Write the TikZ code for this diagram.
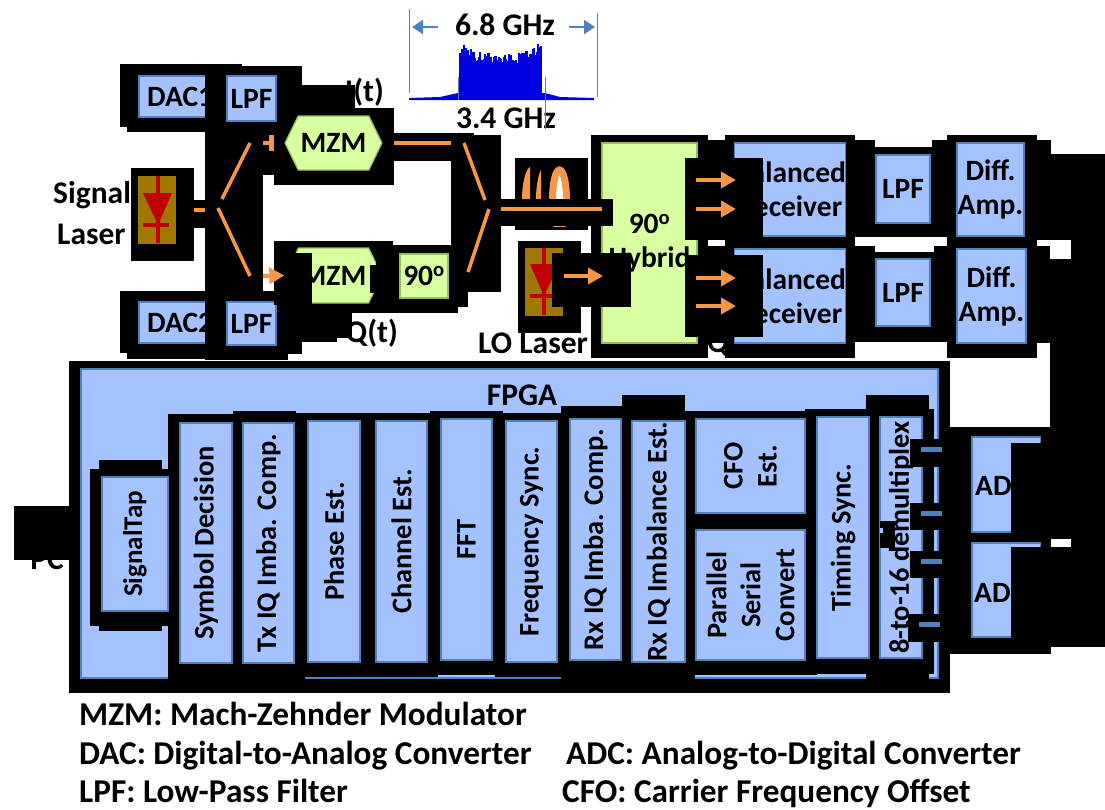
\documentclass[tikz,border=0pt]{standalone}
\usepackage{fontspec}
\usepackage{xcolor}
\usepackage{tikz}
\usetikzlibrary{arrows.meta,shapes.symbols}
\setmainfont{Carlito}
\definecolor{panelblue}{RGB}{164,194,255}
\definecolor{edgeblue}{RGB}{79,129,189}
\definecolor{panelgreen}{RGB}{216,255,160}
\definecolor{edgegreen}{RGB}{155,187,89}
\definecolor{fibre}{RGB}{247,150,70}
\definecolor{laserbrown}{RGB}{160,120,0}
\definecolor{diodered}{RGB}{192,0,0}
\definecolor{specblue}{RGB}{0,0,225}
\definecolor{markblue}{RGB}{79,129,189}

\begin{document}
\begin{tikzpicture}[
  x=1pt, y=-1pt,
  label/.style={inner sep=0pt, align=center, font=\fontsize{31.5}{34}\selectfont\bfseries},
  legend/.style={inner sep=0pt, anchor=base west, font=\fontsize{33.3}{34}\selectfont\bfseries},
  bluebox/.style={draw=edgeblue, line width=1.2pt, fill=panelblue, inner sep=0pt, align=center, font=\fontsize{29.5}{34}\selectfont\bfseries},
  rotbox/.style={bluebox, rotate=90, font=\fontsize{28.4}{34}\selectfont\bfseries},
  boxtext/.style={inner sep=0pt, anchor=west, font=\fontsize{29.5}{34}\selectfont\bfseries},
  greenbox/.style={draw=edgegreen, line width=1.2pt, fill=panelgreen, inner sep=0pt, align=center, font=\fontsize{29.5}{34}\selectfont\bfseries},
  modbox/.style={greenbox, shape=signal, signal to=east and west, signal pointer angle=128},
  blob/.style={fill=black},
  fibreline/.style={draw=fibre, line width=4.5pt},
  splitline/.style={draw=fibre, line width=3.5pt},
  fibrearrow/.style={draw=fibre, line width=4.5pt, -{Triangle[length=15pt,width=16pt]}},
  diode/.style={draw=diodered, line width=3.5pt},
  markline/.style={draw=markblue, line width=0.9pt},
  markarrow/.style={draw=markblue, line width=2pt, -{Triangle[length=11pt,width=14pt]}},
  tapline/.style={draw=edgeblue, line width=5pt}
]
\useasboundingbox (0,0) rectangle (1105,809);

\node[label, anchor=west] (siglabel) at (53,195) {Signal};
\node[label, anchor=west] (laserlabel) at (57,234) {Laser};
\node[label, anchor=east] (ilabel) at (384,92) {I(t)};
\node[label, anchor=east] (qlabel) at (398,333) {Q(t)};
\node[label, anchor=west] (lolabel) at (478,343) {LO Laser};
\node[label, anchor=west] (ioutlabel) at (714,152) {I};
\node[label, anchor=west] (qoutlabel) at (707,344) {Q};
\node[label] (pclabel) at (47,559) {PC};

\pgfmathsetseed{11}
\foreach \xx in {460,...,541}{
  \pgfmathsetmacro{\yt}{43+13*(1-abs(\xx-500.5)/41)+rnd*15}
  \draw[specblue, line width=1.1pt] (\xx,99) -- (\xx,\yt);
}
\fill[specblue] (460,66) rectangle (541,99);
\fill[specblue] (409,98) -- (440,97) -- (458,93) -- (545,93) -- (560,97) -- (594,98) -- (594,100) -- (409,100) -- cycle;
\coordinate (specla) at (409,9);
\coordinate (speclb) at (409,93);
\coordinate (specra) at (597,13);
\coordinate (specrb) at (597,97);
\coordinate (specma) at (458,77);
\coordinate (specmb) at (458,100);
\coordinate (specna) at (545,77);
\coordinate (specnb) at (545,129);
\draw[markline] (specla) -- (speclb);
\draw[markline] (specra) -- (specrb);
\draw[markline] (specma) -- (specmb);
\node[label] (spanlabel) at (505,25) {6.8 GHz};
\node[label] (halflabel) at (506,118) {3.4 GHz};
\draw[markline] (specna) -- (specnb);
\coordinate (spanla) at (438,27);
\coordinate (spanlb) at (412,27);
\coordinate (spanra) at (569,27);
\coordinate (spanrb) at (595,27);
\draw[markarrow] (spanla) -- (spanlb);
\draw[markarrow] (spanra) -- (spanrb);

\foreach \xa/\ya/\xb/\yb in {120/64/242/127,127/127/205/132,120/291/205/353,127/353/205/359}
  \fill[blob] (\xa,\ya) rectangle (\xb,\yb);
\node[bluebox, minimum width=73, minimum height=41] (daca) at (175.5,96.5) {};
\node[bluebox, minimum width=73, minimum height=41] (dacb) at (175.5,322.5) {};
\node[boxtext] (dacatext) at (147,96.5) {DAC1};
\node[boxtext] (dacbtext) at (147,322.5) {DAC2};

\foreach \xa/\ya/\xb/\yb in {205/66/302/135,302/85/355/108,205/135/263/358,263/135/274/175,
  274/108/394/185,394/133/474/161,451/135/501/292,194/200/205/228,131/168/194/261,
  205/291/302/354,205/354/288/360,274/241/337/342,337/241/352/338,352/241/393/313}
  \fill[blob] (\xa,\ya) rectangle (\xb,\yb);
\node[bluebox, minimum width=49, minimum height=45] (lpfa) at (251.5,98.5) {LPF};
\node[bluebox, minimum width=49, minimum height=43] (lpfb) at (251.5,323.5) {LPF};
\node[modbox, minimum width=97, minimum height=54] (mzma) at (333.5,143) {MZM};
\node[modbox, minimum width=97, minimum height=55] (mzmb) at (333.5,275.5) {MZM};

\foreach \xa/\ya/\xb/\yb in {274/253/312/305,376/245/458/313,370/265/376/293,458/292/468/307}
  \fill[blob] (\xa,\ya) rectangle (\xb,\yb);
\node[greenbox, minimum width=48, minimum height=44] (shift) at (424,276) {90\textsuperscript{o}};

\fill[laserbrown] (138,176) rectangle (176,244);
\coordinate (diodet) at (158,176);
\coordinate (diodeb) at (158,243);
\draw[diode] (diodet) -- (diodeb);
\draw[diode] (143,225) -- (169,225);
\fill[diodered] (143,193) -- (172,193) -- (158,225) -- cycle;

\coordinate (laserout) at (194,210);
\coordinate (splitin) at (205,210);
\coordinate (splita) at (222,199);
\coordinate (splitb) at (250,143);
\coordinate (splitc) at (218,208);
\coordinate (splitd) at (250,276);
\coordinate (arra) at (263,143);
\coordinate (arrb) at (263,276);
\draw[fibreline] (laserout) -- (splitin);
\draw[splitline] (splita) -- (splitb);
\draw[splitline] (splitc) -- (splitd);
\fill[fibre] (263,141) rectangle (274,145);
\fill[fibre] (269,135) rectangle (274,151);
\draw[fibrearrow] (arrb) -- (mzmb.west);

\coordinate (outa) at (394,143);
\coordinate (coma) at (451,143);
\coordinate (comb) at (464,143);
\coordinate (comc) at (485,200);
\coordinate (comd) at (489,209);
\coordinate (come) at (468,272);
\draw[fibreline] (outa) -- (coma);
\draw[splitline] (comb) -- (comc);
\draw[splitline] (comd) -- (come);

\fill[blob] (591,135) rectangle (708,358);
\node[greenbox, minimum width=95, minimum height=200] (hybrid) at (649.5,243) {90\textsuperscript{o}\\Hybrid};

\fill[blob] (515,158) rectangle (588,230);
\begin{scope}
  \clip (515,158) rectangle (588,226);
  \draw[draw=fibre, line width=7pt, fill=white] (559.5,199) ellipse (7 and 29);
\end{scope}
\fill[fibre] (530,199) -- (530,167) .. controls (525,170) and (522,185) .. (522,199) -- cycle;
\fill[fibre] (541,199) -- (541,170) .. controls (538,175) and (536,188) .. (536,199) -- cycle;
\fill[blob] (501,199) rectangle (613,226);
\coordinate (fibrea) at (501,209);
\coordinate (fibreb) at (602,209);
\draw[fibreline] (fibrea) -- (fibreb);

\fill[blob] (518,241) rectangle (581,333);
\fill[laserbrown] (525,248) rectangle (563,316);
\coordinate (lodiodet) at (544,248);
\coordinate (lodiodeb) at (544,315);
\draw[diode] (lodiodet) -- (lodiodeb);
\draw[diode] (530,296) -- (556,296);
\fill[diodered] (530,264) -- (559,264) -- (544,296) -- cycle;
\fill[blob] (552,253) rectangle (631,307);
\coordinate (loa) at (564,276);
\coordinate (lob) at (603,276);
\draw[fibrearrow] (loa) -- (lob);

\foreach \xa/\ya/\xb/\yb in {708/140/725/240,708/246/725/343,725/135/855/358,855/140/875/237,855/246/875/342,
  875/147/932/237,875/252/934/342,932/140/947/237,934/246/947/342,947/135/1037/358,
  1037/140/1051/240,1037/246/1050/343,1051/154/1105/240,1071/240/1105/259,1050/259/1105/539,
  1071/539/1105/547,1051/547/1105/647,950/427/1051/654}
  \fill[blob] (\xa,\ya) rectangle (\xb,\yb);
\node[bluebox, minimum width=108, minimum height=93] (recva) at (790,189.5) {Balanced\\Receiver};
\node[bluebox, minimum width=108, minimum height=94] (recvb) at (790,296) {Balanced\\Receiver};
\node[bluebox, minimum width=54, minimum height=68] (lpfc) at (903,189) {LPF};
\node[bluebox, minimum width=54, minimum height=67] (lpfd) at (903,292.5) {LPF};
\node[bluebox, minimum width=67, minimum height=93] (ampa) at (990.5,189.5) {Diff.\\Amp.};
\node[bluebox, minimum width=69, minimum height=94] (ampb) at (991.5,296) {Diff.\\Amp.};

\foreach \xa/\ya/\xb/\yb in {685/158/763/240,685/255/763/337}
  \fill[blob] (\xa,\ya) rectangle (\xb,\yb);
\foreach \n/\yy in {a/180,b/209,c/278,d/306}{
  \coordinate (hyb\n) at (696,\yy);
  \coordinate (rec\n) at (736,\yy);
  \draw[fibrearrow] (hyb\n) -- (rec\n);
}

\node[bluebox, minimum width=69, minimum height=95] (adca) at (1006.5,484.5) {};
\node[bluebox, minimum width=69, minimum height=94] (adcb) at (1006.5,590) {};
\node[boxtext] (adcatext) at (975,486) {ADC};
\node[boxtext] (adcbtext) at (974,593) {ADC};
\foreach \xa/\ya/\xb/\yb in {1011/443/1051/533,1011/547/1051/640,1041/427/1051/654}
  \fill[blob] (\xa,\ya) rectangle (\xb,\yb);

\fill[blob] (69,361) rectangle (950,693);
\fill[blob] (14,506) rectangle (69,560);
\node[bluebox, minimum width=857, minimum height=309] (fpga) at (509.5,523.5) {};
\node[label] (fpgalabel) at (522,395) {FPGA};
\foreach \xa/\ya/\xb/\yb in {90/469/180/626,99/460/162/631,
  168/414/233/680,233/411/296/680,296/413/305/680,305/413/430/677,430/411/438/677,438/411/495/675,
  495/411/503/677,503/413/561/677,561/406/622/680,622/395/685/680,685/411/695/680,695/411/805/675,
  805/409/817/675,817/409/866/674,866/395/929/680,929/409/934/674}
  \fill[blob] (\xa,\ya) rectangle (\xb,\yb);
\node[rotbox, minimum width=134, minimum height=66, font=\fontsize{27}{34}\selectfont\bfseries] (tap) at (135,544) {SignalTap};
\node[rotbox, minimum width=240, minimum height=52] (decide) at (206,543) {Symbol Decision};
\node[rotbox, minimum width=240, minimum height=51] (txcomp) at (268.5,543) {Tx IQ Imba. Comp.};
\node[rotbox, minimum width=241, minimum height=52] (phase) at (334,541.5) {Phase Est.};
\node[rotbox, minimum width=241, minimum height=51] (channel) at (401.5,541.5) {Channel Est.};
\node[rotbox, minimum width=241, minimum height=51] (fft) at (466.5,539.5) {FFT};
\node[rotbox, minimum width=241, minimum height=51] (freq) at (531.5,541.5) {Frequency Sync.};
\node[rotbox, minimum width=241, minimum height=51] (rxcomp) at (595.5,539.5) {Rx IQ Imba. Comp.};
\node[rotbox, minimum width=241, minimum height=53] (rxest) at (658.5,541.5) {Rx IQ Imbalance Est.};
\node[rotbox, minimum width=94, minimum height=109] (cfo) at (750.5,466) {CFO\\Est.};
\node[rotbox, minimum width=130, minimum height=109] (serial) at (750.5,595) {Parallel\\Serial\\Convert};
\node[rotbox, minimum width=241, minimum height=52] (timing) at (843,537.5) {Timing Sync.};
\node[rotbox, minimum width=241, minimum height=42] (demux) at (901,537.5) {8-to-16 demultiplex};

\foreach \xa/\ya/\xb/\yb in {880/521/895/548,910/439/942/467,910/503/942/530,910/551/942/578,908/614/940/642}
  \fill[blob] (\xa,\ya) rectangle (\xb,\yb);
\fill[panelblue] (880,528) rectangle (883,533);
\foreach \n/\xa/\yy in {a/921/449,b/921/513,c/921/561,d/919/624}{
  \coordinate (tapa\n) at (\xa,\yy);
  \coordinate (tapb\n) at (\xa+21,\yy);
  \draw[tapline] (tapa\n) -- (tapb\n);
}

\node[legend] (mzmnote) at (79,725) {MZM: Mach-Zehnder Modulator};
\node[legend] (dacnote) at (79,764.5) {DAC: Digital-to-Analog Converter};
\node[legend] (lpfnote) at (79,802) {LPF: Low-Pass Filter};
\node[legend] (adcnote) at (566,764.5) {ADC: Analog-to-Digital Converter};
\node[legend] (cfonote) at (562,802) {CFO: Carrier Frequency Offset};
\end{tikzpicture}
\end{document}
